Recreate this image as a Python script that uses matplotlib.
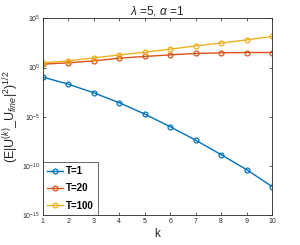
import numpy as np
import matplotlib
matplotlib.use("Agg")
import matplotlib.pyplot as plt
from matplotlib.ticker import LogFormatterMathtext, FixedLocator, NullLocator

plt.rcParams["font.family"] = ["Liberation Sans", "DejaVu Sans"]
plt.rcParams["mathtext.fontset"] = "custom"
plt.rcParams["mathtext.rm"] = "Liberation Sans"
plt.rcParams["mathtext.it"] = "Liberation Sans:italic"

k = [1, 2, 3, 4, 5, 6, 7, 8, 9, 10]
# log10 of the error
log_t1 = [-0.97, -1.69, -2.57, -3.58, -4.73, -6.02, -7.38, -8.86, -10.38, -12.1]
log_t20 = [0.35, 0.48, 0.68, 0.95, 1.13, 1.29, 1.43, 1.50, 1.53, 1.53]
log_t100 = [0.48, 0.68, 0.98, 1.29, 1.56, 1.87, 2.20, 2.50, 2.81, 3.16]
labels = ["T=1", "T=20", "T=100"]
colors = ["#0072BD", "#D95319", "#EDB120"]

fig = plt.figure(figsize=(3.0, 2.45), dpi=100)
ax = fig.add_axes([0.143, 0.122, 0.764, 0.803])

for ys, lab, c in zip([log_t1, log_t20, log_t100], labels, colors):
    ax.semilogy(k, 10.0 ** np.array(ys), "-o", color=c, lw=1.0, ms=3.5,
                mfc="none", mew=0.9, label=lab)

ax.set_xlim(1, 10)
ax.set_ylim(1e-15, 1e5)
ax.set_xticks(k)
ax.yaxis.set_major_locator(FixedLocator([1e-15, 1e-10, 1e-5, 1e0, 1e5]))
ax.yaxis.set_minor_locator(NullLocator())
ax.yaxis.set_major_formatter(LogFormatterMathtext())
ax.tick_params(direction="in", top=True, right=True, length=2.5, width=0.5,
               labelsize=5, colors="#262626", pad=2)
for s in ax.spines.values():
    s.set_color("#262626")
    s.set_linewidth(0.6)

ax.set_xlabel("k", fontsize=8.5, color="#262626", labelpad=2)
ax.set_ylabel(r"(E|U$^{(k)}$_U$_{fine}$|$^2$)$^{1/2}$", fontsize=9,
              color="#262626", labelpad=1)
ax.set_title(r"$\lambda$ =5, $\alpha$ =1", fontsize=8.5, color="#262626", pad=3)

leg = ax.legend(loc="lower left", prop={"weight": "bold", "size": 7},
                fancybox=False, edgecolor="#262626", borderaxespad=0,
                handlelength=1.6, handletextpad=0.3, labelspacing=0.75,
                borderpad=0.45)
leg.get_frame().set_linewidth(0.6)

fig.savefig("out.png", dpi=100)
